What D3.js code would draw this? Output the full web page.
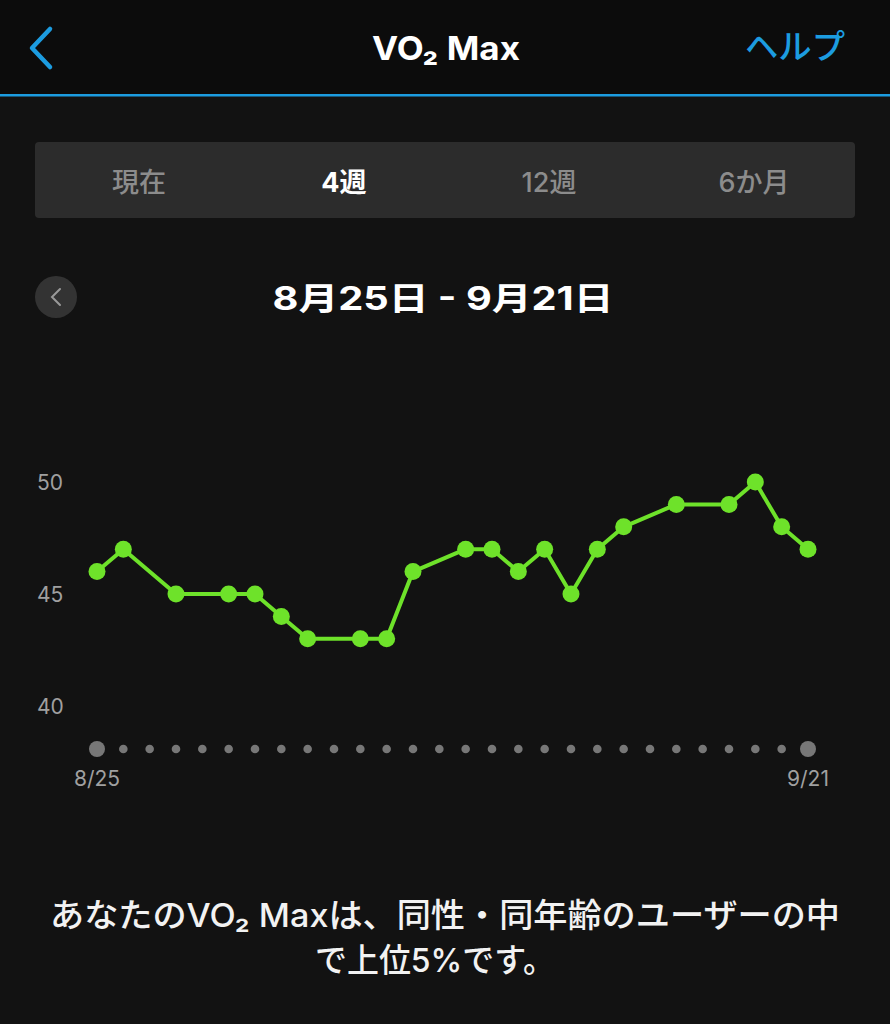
<!DOCTYPE html>
<html><head><meta charset="utf-8">
<script src="https://cdn.jsdelivr.net/npm/d3@7"></script>
<style>html,body{margin:0;padding:0;background:#121212;}svg{display:block;}</style>
</head><body>
<script>
const dayLabels = ["8/25","8/26","8/27","8/28","8/29","8/30","8/31","9/1","9/2","9/3","9/4","9/5","9/6","9/7","9/8","9/9","9/10","9/11","9/12","9/13","9/14","9/15","9/16","9/17","9/18","9/19","9/20","9/21"];
const dayIndex = [0,1,3,5,6,7,8,10,11,12,14,15,16,17,18,19,20,22,24,25,26,27];
const vo2Values = [46,47,45,45,45,44,43,43,43,46,47,47,46,47,45,47,48,49,49,50,48,47];
const yTicks = [40,45,50];
const tabs = ["現在","4週","12週","6か月"];
const xTickLabels = ["8/25","9/21"];

const W=890,H=1024;
const font="Inter,'Noto Sans CJK JP','Noto Sans',sans-serif";
const svg=d3.select("body").append("svg").attr("width",W).attr("height",H);
svg.append("rect").attr("width",W).attr("height",H).attr("fill","#121212");
// header
svg.append("rect").attr("width",W).attr("height",94).attr("fill","#0c0c0c");
svg.append("rect").attr("y",94).attr("width",W).attr("height",2.5).attr("fill","#1c9ce0");
svg.append("path").attr("d","M50,29 L32,48 L50,67").attr("fill","none").attr("stroke","#1c9ce0").attr("stroke-width",4.5).attr("stroke-linecap","round").attr("stroke-linejoin","round");
svg.append("text").attr("x",446).attr("y",60).attr("text-anchor","middle").attr("fill","#fff").attr("font-family",font).attr("font-weight","bold").attr("font-size",33)
 .attr("textLength",148).attr("lengthAdjust","spacingAndGlyphs").text("VO₂ Max");
svg.append("text").attr("x",845).attr("y",59).attr("text-anchor","end").attr("fill","#1c9ce0").attr("font-family",font).attr("font-weight","500").attr("font-size",34)
 .attr("textLength",100).attr("lengthAdjust","spacingAndGlyphs").text("ヘルプ");
// tabs
svg.append("rect").attr("x",35).attr("y",142).attr("width",820).attr("height",76).attr("rx",4).attr("fill","#2c2c2c");
const tabX=d3.scalePoint().domain(tabs).range([139,754]);
svg.selectAll(".tab").data(tabs).join("text").attr("x",d=>tabX(d)).attr("y",192).attr("text-anchor","middle")
 .attr("font-family",font).attr("font-size",27).attr("font-weight",d=>d==="4週"?"bold":"500")
 .attr("fill",d=>d==="4週"?"#fff":"#8c8c8c").text(d=>d);
// date nav
svg.append("circle").attr("cx",56).attr("cy",297).attr("r",21).attr("fill","#333");
svg.append("path").attr("d","M60,289 L52,297 L60,305").attr("fill","none").attr("stroke","#999").attr("stroke-width",2).attr("stroke-linecap","round");
svg.append("text").attr("x",443).attr("y",310).attr("text-anchor","middle").attr("fill","#fff").attr("font-family",font).attr("font-weight","bold").attr("font-size",32)
 .attr("textLength",341).attr("lengthAdjust","spacingAndGlyphs").text("8月25日 - 9月21日");
// chart
const x=d3.scaleLinear().domain([0,27]).range([97,808]);
const y=d3.scaleLinear().domain([40,50]).range([706,482]);
svg.selectAll(".yt").data(yTicks).join("text").attr("x",37).attr("y",d=>y(d)+8).attr("fill","#a0a0a0")
 .attr("font-family",font).attr("font-size",21).text(d=>d);
svg.selectAll(".xd").data(dayLabels).join("circle").attr("cx",(d,i)=>x(i)).attr("cy",749)
 .attr("r",(d,i)=>(i===0||i===27)?8:4.3).attr("fill","#777");
svg.selectAll(".xl").data(xTickLabels).join("text").attr("x",d=>x(dayLabels.indexOf(d))).attr("y",786)
 .attr("text-anchor","middle").attr("fill","#a0a0a0").attr("font-family",font).attr("font-size",21).text(d=>d);
const pts=dayIndex.map((d,i)=>[d,vo2Values[i]]);
svg.append("path").datum(pts).attr("d",d3.line().x(d=>x(d[0])).y(d=>y(d[1])))
 .attr("fill","none").attr("stroke","#6ee22a").attr("stroke-width",4).attr("stroke-linejoin","round");
svg.selectAll(".pt").data(pts).join("circle").attr("cx",d=>x(d[0])).attr("cy",d=>y(d[1])).attr("r",8.5).attr("fill","#6ee22a");
// bottom text
svg.append("text").attr("x",445).attr("y",927).attr("text-anchor","middle").attr("fill","#f2f2f2").attr("font-family",font).attr("font-weight","500").attr("font-size",33)
 .attr("textLength",790).attr("lengthAdjust","spacingAndGlyphs").text("あなたのVO₂ Maxは、同性・同年齢のユーザーの中");
svg.append("text").attr("x",315).attr("y",972).attr("text-anchor","start").attr("fill","#f2f2f2").attr("font-family",font).attr("font-weight","500").attr("font-size",33)
 .attr("textLength",240).attr("lengthAdjust","spacingAndGlyphs").text("で上位5%です。");
</script>
</body></html>
